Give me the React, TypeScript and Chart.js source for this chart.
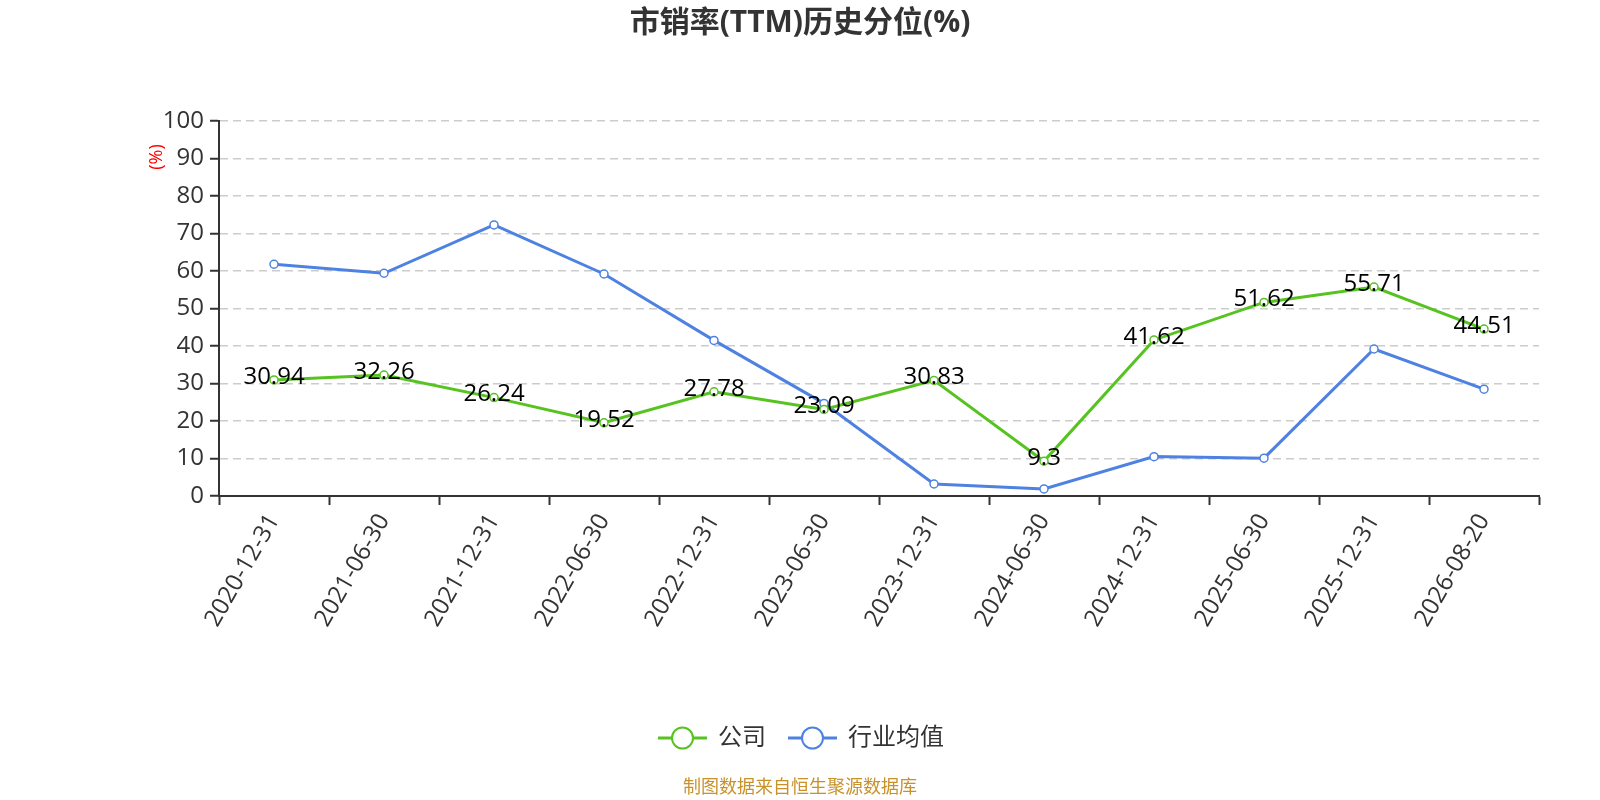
import { useEffect, useRef } from "react";
import { Chart, registerables, type ChartConfiguration, type Plugin } from "chart.js";

Chart.register(...registerables);

const categories = [
  "2020-12-31",
  "2021-06-30",
  "2021-12-31",
  "2022-06-30",
  "2022-12-31",
  "2023-06-30",
  "2023-12-31",
  "2024-06-30",
  "2024-12-31",
  "2025-06-30",
  "2025-12-31",
  "2026-08-20",
];

const companyValues = [30.94, 32.26, 26.24, 19.52, 27.78, 23.09, 30.83, 9.3, 41.62, 51.62, 55.71, 44.51];
const industryValues = [61.8, 59.4, 72.3, 59.2, 41.5, 24.7, 3.2, 1.9, 10.5, 10.1, 39.2, 28.5];

const seriesNames = ["公司", "行业均值"];
const yTicks = [0, 10, 20, 30, 40, 50, 60, 70, 80, 90, 100];

const GREEN = "#56c320";
const BLUE = "#4e82e2";
const FONT = "'Open Sans', 'Noto Sans CJK SC', sans-serif";

const extrasPlugin: Plugin<"line"> = {
  id: "extras",
  afterDatasetsDraw(chart) {
    const { ctx } = chart;
    // data labels for the company series
    const meta = chart.getDatasetMeta(0);
    ctx.save();
    ctx.font = `24px ${FONT}`;
    ctx.fillStyle = "#000";
    ctx.textAlign = "center";
    ctx.textBaseline = "middle";
    meta.data.forEach((pt, i) => {
      ctx.fillText(String(companyValues[i]), pt.x, pt.y - 3);
    });
    ctx.restore();
  },
  afterDraw(chart) {
    const { ctx, chartArea } = chart;
    ctx.save();
    // title
    ctx.font = `bold 30px ${FONT}`;
    ctx.fillStyle = "#333";
    ctx.textAlign = "center";
    ctx.textBaseline = "middle";
    ctx.fillText("市销率(TTM)历史分位(%)", 800, 23);

    // y axis unit
    ctx.save();
    ctx.translate(chartArea.left - 62, chartArea.top + 36);
    ctx.rotate(-Math.PI / 2);
    ctx.font = `18px ${FONT}`;
    ctx.fillStyle = "#ff0000";
    ctx.fillText("(%)", 0, 0);
    ctx.restore();

    // legend
    const items = [
      { name: seriesNames[0], color: GREEN, x: 658 },
      { name: seriesNames[1], color: BLUE, x: 788 },
    ];
    const ly = 738;
    items.forEach((it) => {
      ctx.strokeStyle = it.color;
      ctx.lineWidth = 3;
      ctx.beginPath();
      ctx.moveTo(it.x, ly);
      ctx.lineTo(it.x + 49, ly);
      ctx.stroke();
      ctx.beginPath();
      ctx.arc(it.x + 24.5, ly, 10.5, 0, Math.PI * 2);
      ctx.fillStyle = "#fff";
      ctx.fill();
      ctx.lineWidth = 2;
      ctx.stroke();
      ctx.font = `24px ${FONT}`;
      ctx.fillStyle = "#333";
      ctx.textAlign = "left";
      ctx.fillText(it.name, it.x + 60, ly);
    });

    // source
    ctx.font = `18px ${FONT}`;
    ctx.fillStyle = "#c8922a";
    ctx.textAlign = "center";
    ctx.fillText("制图数据来自恒生聚源数据库", 800, 788);
    ctx.restore();
  },
};

export default function App() {
  const canvasRef = useRef<HTMLCanvasElement | null>(null);
  const chartRef = useRef<Chart<"line"> | null>(null);

  useEffect(() => {
    document.body.style.margin = "0";
    const canvas = canvasRef.current;
    if (!canvas) return;
    if (chartRef.current) {
      chartRef.current.destroy();
      chartRef.current = null;
    }

    const config: ChartConfiguration<"line"> = {
      type: "line",
      data: {
        labels: categories,
        datasets: [
          {
            label: seriesNames[0],
            data: companyValues,
            borderColor: GREEN,
            backgroundColor: "#fff",
            borderWidth: 3,
            pointRadius: 4,
            pointBorderWidth: 1.5,
            pointBackgroundColor: "#fff",
            pointBorderColor: GREEN,
            tension: 0,
          },
          {
            label: seriesNames[1],
            data: industryValues,
            borderColor: BLUE,
            backgroundColor: "#fff",
            borderWidth: 3,
            pointRadius: 4,
            pointBorderWidth: 1.5,
            pointBackgroundColor: "#fff",
            pointBorderColor: BLUE,
            tension: 0,
          },
        ],
      },
      options: {
        responsive: false,
        animation: false,
        layout: { padding: { top: 121, right: 61, left: 0, bottom: 0 } },
        scales: {
          x: {
            type: "category",
            offset: true,
            afterFit: (scale) => {
              scale.height = 304;
            },
            grid: {
              offset: true,
              drawOnChartArea: false,
              drawTicks: true,
              tickLength: 9,
              tickColor: "#333",
              tickWidth: 2,
            },
            border: { color: "#333", width: 2 },
            ticks: {
              color: "#333",
              font: { size: 24, family: FONT },
              minRotation: 60,
              maxRotation: 60,
              padding: 4,
              autoSkip: false,
            },
          },
          y: {
            min: 0,
            max: 100,
            afterFit: (scale) => {
              scale.width = 219;
            },
            afterBuildTicks: (scale) => {
              scale.ticks = yTicks.map((v) => ({ value: v }));
            },
            grid: {
              color: "#cccccc",
              lineWidth: 1.5,
              drawTicks: true,
              tickLength: 9,
              tickColor: "#333",
              tickWidth: 2,
              tickBorderDash: [],
            },
            border: { color: "#333", width: 2, dash: [8, 5] },
            ticks: {
              color: "#333",
              font: { size: 24, family: FONT },
              padding: 6,
            },
          },
        },
        plugins: {
          legend: { display: false },
          title: { display: false },
          tooltip: { enabled: false },
        },
      },
      plugins: [extrasPlugin],
    };

    chartRef.current = new Chart(canvas, config);
    return () => {
      if (chartRef.current) {
        chartRef.current.destroy();
        chartRef.current = null;
      }
    };
  }, []);

  return (
    <div style={{ width: 1600, height: 800, background: "#fff" }}>
      <canvas ref={canvasRef} width={1600} height={800} style={{ width: 1600, height: 800 }} />
    </div>
  );
}
